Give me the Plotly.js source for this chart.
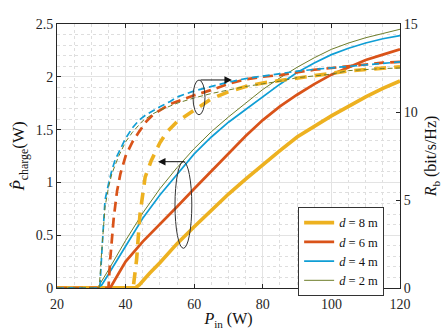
<!DOCTYPE html>
<html>
<head>
<meta charset="utf-8">
<script src="https://cdn.plot.ly/plotly-3.0.1.min.js"></script>
<style>html,body{margin:0;padding:0;background:#fff;}#chart{width:443px;height:332px;}</style>
</head>
<body>
<div id="chart"></div>
<script>
// ---- Data ----
const legendLabels = ["<i>d</i> = 8 m", "<i>d</i> = 6 m", "<i>d</i> = 4 m", "<i>d</i> = 2 m"];

// Charged power P_charge (W), left axis (solid)
const p8_x = [20, 30, 40, 42.5, 43, 44, 45, 47, 50, 55, 60, 65, 70, 75, 80, 85, 90, 95, 100, 105, 110, 115, 120];
const p8_y = [0, 0, 0, 0, 0.005, 0.03, 0.07, 0.14, 0.24, 0.42, 0.58, 0.74, 0.89, 1.03, 1.17, 1.30, 1.43, 1.53, 1.63, 1.72, 1.81, 1.89, 1.96];
const p6_x = [20, 30, 35.5, 38, 40, 45, 50, 55, 60, 65, 70, 75, 80, 85, 90, 95, 100, 105, 110, 115, 120];
const p6_y = [0, 0, 0, 0.14, 0.25, 0.44, 0.60, 0.77, 0.94, 1.11, 1.28, 1.44, 1.59, 1.72, 1.83, 1.93, 2.02, 2.09, 2.16, 2.21, 2.26];
const p4_x = [20, 30, 32.5, 35, 40, 45, 50, 55, 60, 65, 70, 75, 80, 85, 90, 95, 100, 105, 110, 115, 120];
const p4_y = [0, 0, 0, 0.13, 0.40, 0.66, 0.88, 1.08, 1.27, 1.43, 1.57, 1.69, 1.81, 1.93, 2.04, 2.13, 2.21, 2.27, 2.32, 2.36, 2.39];
const p2_x = [20, 30, 31.8, 35, 40, 45, 50, 55, 60, 65, 70, 75, 80, 85, 90, 95, 100, 105, 110, 115, 120];
const p2_y = [0, 0, 0, 0.17, 0.45, 0.71, 0.94, 1.14, 1.32, 1.48, 1.62, 1.75, 1.88, 1.99, 2.09, 2.18, 2.26, 2.32, 2.37, 2.41, 2.45];

// Rate R_b (bit/s/Hz), right axis (dashed)
const r8_x = [20, 30, 42.2, 43.2, 44.2, 45.7, 47.5, 50, 52, 55, 60, 65, 70, 75, 80, 85, 90, 95, 100, 105, 110, 115, 120];
const r8_y = [0, 0, 0, 1.6, 4.2, 6.3, 7.25, 8.25, 8.85, 9.45, 10.1, 10.75, 11.15, 11.45, 11.65, 11.8, 11.95, 12.1, 12.2, 12.33, 12.42, 12.5, 12.57];
const r6_x = [20, 30, 35, 35.5, 36.5, 37.5, 38.5, 40, 42, 44, 46, 48, 50, 53, 55, 60, 65, 70, 75, 80, 85, 90, 95, 100, 105, 110, 115, 120];
const r6_y = [0, 0, 0, 1.6, 3.9, 5.5, 6.5, 7.5, 8.3, 8.9, 9.45, 9.85, 10.1, 10.45, 10.6, 10.95, 11.25, 11.6, 11.85, 12.0, 12.1, 12.25, 12.4, 12.5, 12.6, 12.72, 12.8, 12.85];
const r4_x = [20, 30, 32.5, 33, 34, 35, 36, 37, 38, 39, 40, 42, 44, 46, 48, 50, 53, 55, 60, 65, 70, 75, 80, 85, 90, 95, 100, 105, 110, 115, 120];
const r4_y = [0, 0, 0, 1.8, 5.0, 5.9, 6.7, 7.3, 7.7, 8.1, 8.5, 9.1, 9.55, 9.85, 10.1, 10.3, 10.6, 10.85, 11.2, 11.45, 11.7, 11.9, 12.05, 12.2, 12.32, 12.42, 12.5, 12.58, 12.65, 12.75, 12.85];
const r2_x = [20, 30, 32.3, 33, 34, 35, 36, 38, 40, 42, 45, 48, 50, 55, 60, 65, 70, 75, 80, 85, 90, 95, 100, 105, 110, 115, 120];
const r2_y = [0, 0, 0, 2.0, 4.6, 5.7, 6.5, 7.5, 8.3, 8.85, 9.5, 9.9, 10.1, 10.5, 10.8, 11.05, 11.25, 11.45, 11.6, 11.75, 11.95, 12.05, 12.15, 12.35, 12.42, 12.47, 12.5];

const colors = ["#EDB120", "#D95319", "#0f9ed5", "#6e7d2a"];
const widths = [3.6, 2.7, 1.7, 1.0];
const dashes = ["12px,8px", "10px,6px", "7px,4px", "5px,3px"];

const solidX = [p8_x, p6_x, p4_x, p2_x], solidY = [p8_y, p6_y, p4_y, p2_y];
const dashX = [r8_x, r6_x, r4_x, r2_x], dashY = [r8_y, r6_y, r4_y, r2_y];

const traces = [];
for (let i = 0; i < 4; i++) {
  traces.push({x: dashX[i], y: dashY[i], yaxis: 'y2', mode: 'lines', showlegend: false,
    line: {color: colors[i], width: widths[i], dash: dashes[i]}, hoverinfo: 'skip'});
}
for (let i = 0; i < 4; i++) {
  traces.push({x: solidX[i], y: solidY[i], mode: 'lines', name: legendLabels[i],
    line: {color: colors[i], width: widths[i]}});
}

const serif = "'Liberation Serif', 'DejaVu Serif', serif";
const axisCol = "#262626";
const layout = {
  width: 443, height: 332,
  margin: {l: 57, r: 43, t: 24, b: 44},
  paper_bgcolor: '#fff', plot_bgcolor: '#fff',
  font: {family: serif, size: 14, color: '#262626'},
  showlegend: true,
  legend: {x: 0.703, y: 0.307, xanchor: 'left', yanchor: 'top', bgcolor: '#fff',
    bordercolor: '#333', borderwidth: 1, font: {family: serif, size: 12.5, color: '#111'},
    tracegroupgap: 0, itemwidth: 30, entrywidth: 46, entrywidthmode: 'pixels'},
  xaxis: {range: [20, 120], dtick: 20, tick0: 20, showline: true, linecolor: axisCol, linewidth: 1,
    mirror: 'ticks', ticks: 'inside', ticklen: 4, tickcolor: axisCol, zeroline: false,
    showgrid: true, gridcolor: '#e3e3e3', gridwidth: 1, ticklabelstandoff: 3,
    minor: {dtick: 5, showgrid: true, gridcolor: '#dedede', griddash: 'dot', gridwidth: 1, ticks: ''},
    tickfont: {family: serif, size: 14, color: '#262626'},
    title: {text: '<i>P</i><sub>in</sub> (W)', font: {family: serif, size: 16, color: '#111'}, standoff: 2}},
  yaxis: {range: [0, 2.5], dtick: 0.5, showline: true, linecolor: axisCol, linewidth: 1,
    ticks: 'inside', ticklen: 4, tickcolor: axisCol, zeroline: false,
    showgrid: true, gridcolor: '#e3e3e3', gridwidth: 1,
    minor: {dtick: 0.1, showgrid: true, gridcolor: '#dedede', griddash: 'dot', gridwidth: 1, ticks: ''},
    tickfont: {family: serif, size: 14, color: '#262626'},
    title: {text: '<i>P̂</i><sub>charge</sub>(W)', font: {family: serif, size: 17, color: '#111'}, standoff: 6}},
  yaxis2: {range: [0, 15], dtick: 5, overlaying: 'y', side: 'right', showline: true, linecolor: axisCol,
    linewidth: 1, ticks: 'inside', ticklen: 4, tickcolor: axisCol, showgrid: false, zeroline: false,
    tickfont: {family: serif, size: 14, color: '#262626'},
    title: {text: '<i>R</i><sub>b</sub> (bit/s/Hz)', font: {family: serif, size: 16, color: '#111'}, standoff: 8}},
  shapes: [
    {type: 'circle', xref: 'x', yref: 'y', x0: 59.65, x1: 63.15, y0: 1.64, y1: 1.97,
      line: {color: '#333', width: 1}},
    {type: 'circle', xref: 'x', yref: 'y', x0: 54.4, x1: 59.3, y0: 0.376, y1: 1.196,
      line: {color: '#333', width: 1}}
  ],
  annotations: [
    {x: 71.0, y: 1.97, ax: 61.4, ay: 1.97, xref: 'x', yref: 'y', axref: 'x', ayref: 'y',
      text: '', showarrow: true, arrowhead: 2, arrowsize: 1.5, arrowwidth: 1, arrowcolor: '#111'},
    {x: 49.45, y: 1.196, ax: 57.6, ay: 1.196, xref: 'x', yref: 'y', axref: 'x', ayref: 'y',
      text: '', showarrow: true, arrowhead: 2, arrowsize: 1.5, arrowwidth: 1, arrowcolor: '#111'}
  ]
};

Plotly.newPlot('chart', traces, layout, {displayModeBar: false, staticPlot: true});
</script>
</body>
</html>
